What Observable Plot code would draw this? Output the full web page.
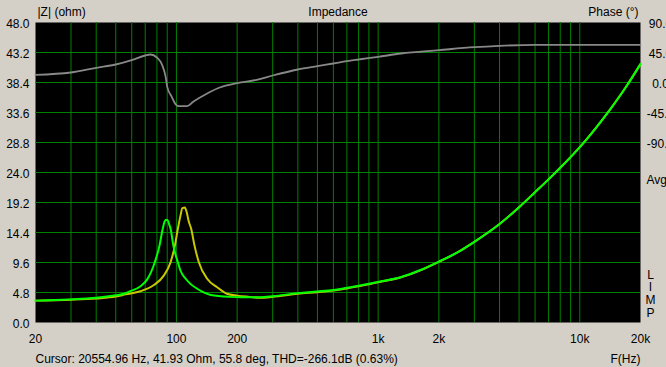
<!DOCTYPE html>
<html><head><meta charset="utf-8">
<script src="https://cdn.jsdelivr.net/npm/d3@7"></script>
<script src="https://cdn.jsdelivr.net/npm/@observablehq/plot@0.6"></script>
<style>html,body{margin:0;padding:0;background:#d4d0c8;overflow:hidden}</style>
</head><body><div id="chart"></div>
<script>
// Impedance curve 1 (bright green)
const greenFreq = [20, 25, 30, 40, 50, 55, 59, 66.3, 71.6, 78.1, 82.4, 85.5, 87.5, 89, 90.7, 92, 93.5, 96.5, 101.6, 105, 111.1, 118, 126.7, 148, 185, 210, 260, 300, 400, 500, 600, 700, 800, 900, 1000, 1290, 1620, 2000, 2500, 3000, 4000, 5000, 6000, 7000, 8000, 9000, 10000, 12000, 14000, 17000, 20000];
const greenOhm  = [3.5, 3.6, 3.7, 3.95, 4.35, 4.6, 5.0, 5.8, 6.9, 9.65, 12.3, 15.0, 16.2, 16.43, 16.3, 15.7, 15.0, 12.3, 9.65, 8.2, 7.0, 6.1, 5.4, 4.4, 4.1, 4.05, 4.05, 4.2, 4.7, 4.96, 5.2, 5.55, 5.87, 6.19, 6.5, 7.25, 8.4, 9.75, 11.3, 12.9, 15.75, 18.45, 20.85, 22.9, 24.75, 26.45, 28.05, 31.1, 33.9, 37.75, 41.35];

// Impedance curve 2 (yellow)
const yellowFreq = [20, 30, 40, 50, 56, 66.3, 77.3, 86.5, 93.5, 98.2, 101.6, 104.7, 107, 110, 112.5, 115, 118.3, 122.9, 129.1, 142, 159, 178, 200, 230, 260, 300, 400, 500, 600, 700, 800, 900, 1000, 1290, 1620, 2000, 2500, 3000, 4000, 5000, 6000, 7000, 8000, 9000, 10000, 12000, 14000, 17000, 20000];
const yellowOhm  = [3.5, 3.65, 3.85, 4.15, 4.5, 5.0, 6.0, 7.5, 9.65, 12.3, 15.0, 17.1, 18.3, 18.4, 17.6, 16.2, 15.0, 12.3, 9.65, 7.0, 5.65, 4.6, 4.3, 4.1, 3.95, 4.1, 4.6, 4.85, 5.1, 5.45, 5.8, 6.1, 6.45, 7.2, 8.35, 9.7, 11.3, 12.9, 15.75, 18.45, 20.85, 22.9, 24.75, 26.45, 28.05, 31.1, 33.9, 37.75, 41.35];

// Phase curve (gray), degrees
const phaseFreq = [20, 30, 40, 50, 60, 70, 74.4, 80, 85, 88.4, 90, 94.8, 98.9, 102, 113, 121, 142, 164, 200, 250, 300, 400, 500, 600, 700, 800, 1000, 1300, 2000, 3000, 4000, 6000, 10000, 20000];
const phaseDeg  = [11.5, 15, 22, 27, 33.5, 40.5, 42, 37.5, 26, 8.5, -6.5, -21.5, -32.5, -35.5, -35.5, -29, -16.5, -7.5, -1, 4, 10.5, 19.5, 24.5, 28.5, 32, 34.5, 38.5, 43.5, 48.5, 53, 55, 56.5, 56.5, 56.5];

// Axes / ticks
const ohmTicks = [0, 4.8, 9.6, 14.4, 19.2, 24.0, 28.8, 33.6, 38.4, 43.2, 48.0];
const ohmGrid = [4.8, 9.6, 14.4, 19.2, 24.0, 28.8, 33.6, 38.4, 43.2];
const phaseTicks = [90, 45, 0, -45, -90];
const freqTicks = [20, 50, 100, 200, 500, 1000, 2000, 5000, 10000, 20000];
const freqGrid = [30, 40, 50, 60, 70, 80, 90, 100, 200, 300, 400, 500, 600, 700, 800, 900, 1000, 2000, 3000, 4000, 5000, 6000, 7000, 8000, 9000, 10000];

const titleLeft = "|Z| (ohm)";
const titleMid = "Impedance";
const titleRight = "Phase (°)";
const cursorText = "Cursor: 20554.96 Hz, 41.93 Ohm, 55.8 deg, THD=-266.1dB (0.63%)";
const xLabel = "F(Hz)";

const phaseToOhm = p => (p + 360) * 48 / 450;

const green = greenFreq.map((f, i) => ({f, v: greenOhm[i]}));
const yellow = yellowFreq.map((f, i) => ({f, v: yellowOhm[i]}));
const phase = phaseFreq.map((f, i) => ({f, v: phaseToOhm(phaseDeg[i])}));

const FONT = "Liberation Sans, Arial, sans-serif";
const GRID = "#008000";

const chart = Plot.plot({
  width: 666,
  height: 367,
  marginLeft: 35,
  marginRight: 26,
  marginTop: 22,
  marginBottom: 45,
  style: {background: "#d4d0c8", fontFamily: FONT, fontSize: "12px", color: "#000", overflow: "visible"},
  x: {type: "log", domain: [20, 20000]},
  y: {domain: [0, 48]},
  marks: [
    Plot.frame({fill: "#000", stroke: null}),
    Plot.ruleY(ohmGrid, {stroke: GRID, strokeWidth: 1}),
    Plot.ruleX(freqGrid, {stroke: GRID, strokeWidth: 1}),
    Plot.line(phase, {x: "f", y: "v", stroke: "#888888", strokeWidth: 1.8, curve: "monotone-x"}),
    Plot.line(yellow, {x: "f", y: "v", stroke: "#c8c800", strokeWidth: 2, curve: "monotone-x"}),
    Plot.line(green, {x: "f", y: "v", stroke: "#00ff00", strokeWidth: 2, curve: "monotone-x"}),
    Plot.axisY({ticks: ohmTicks, tickSize: 0, tickPadding: 6, tickFormat: d => d.toFixed(1), fontSize: 12, dy: 1.8, label: null}),
    Plot.text(phaseTicks, {y: d => phaseToOhm(d), text: d => d.toFixed(1), frameAnchor: "right", dx: 20, dy: 1.8, textAnchor: "middle", fontSize: 12, fill: "#000"}),
    Plot.axisX({ticks: freqTicks, tickSize: 0, tickPadding: 12, tickFormat: d => d >= 1000 ? (d / 1000) + "k" : String(d), fontSize: 12, label: null}),
    Plot.text([titleLeft], {frameAnchor: "top-left", text: d => d, textAnchor: "start", lineAnchor: "middle", dx: 2, dy: -10.5, fontSize: 12, fill: "#000"}),
    Plot.text([titleMid], {frameAnchor: "top", text: d => d, textAnchor: "middle", lineAnchor: "middle", dy: -10.5, fontSize: 12, fill: "#000"}),
    Plot.text([titleRight], {frameAnchor: "top-right", text: d => d, textAnchor: "end", lineAnchor: "middle", dx: -2, dy: -10.5, fontSize: 12, fill: "#000"}),
    Plot.text(["Avg"], {frameAnchor: "right", text: d => d, textAnchor: "start", lineAnchor: "middle", dx: 6, dy: 8, fontSize: 12, fill: "#000"}),
    Plot.text(["L\nI\nM\nP"], {frameAnchor: "bottom-right", text: d => d, textAnchor: "middle", lineAnchor: "bottom", lineHeight: 1.05, dx: 10, dy: -6, fontSize: 12, fill: "#000"}),
    Plot.text([cursorText], {frameAnchor: "bottom-left", text: d => d, textAnchor: "start", lineAnchor: "middle", dy: 36.2, fontSize: 12, fill: "#000", letterSpacing: "0.1px"}),
    Plot.text([xLabel], {frameAnchor: "bottom-right", text: d => d, textAnchor: "end", lineAnchor: "middle", dy: 36.2, fontSize: 12, fill: "#000"})
  ]
});
document.getElementById("chart").appendChild(chart);
</script>
</body></html>
